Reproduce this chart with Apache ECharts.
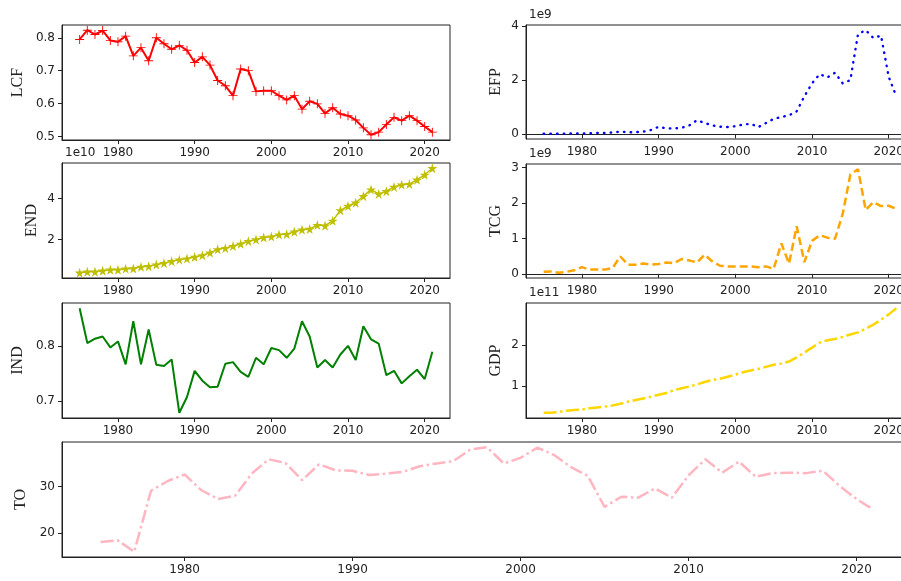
<!DOCTYPE html>
<html>
<head>
<meta charset="utf-8">
<script src="https://cdn.jsdelivr.net/npm/echarts@6.0.0/dist/echarts.min.js"></script>
<style>
  html, body { margin: 0; padding: 0; background: #fff; overflow: hidden; }
  /* the canvas is a little wider than the window, so the right column runs off the edge */
  #chart { width: 920px; height: 581px; }
</style>
</head>
<body>
<div id="chart"></div>
<script>
// Years covered by every indicator
const years = [1975, 1976, 1977, 1978, 1979, 1980, 1981, 1982, 1983, 1984,
  1985, 1986, 1987, 1988, 1989, 1990, 1991, 1992, 1993, 1994,
  1995, 1996, 1997, 1998, 1999, 2000, 2001, 2002, 2003, 2004,
  2005, 2006, 2007, 2008, 2009, 2010, 2011, 2012, 2013, 2014,
  2015, 2016, 2017, 2018, 2019, 2020, 2021];

// Load capacity factor
const lcf = [0.795, 0.823, 0.810, 0.822, 0.792, 0.788, 0.805, 0.745, 0.770, 0.730,
  0.800, 0.782, 0.765, 0.777, 0.762, 0.725, 0.742, 0.717, 0.670, 0.654,
  0.624, 0.705, 0.700, 0.637, 0.639, 0.639, 0.624, 0.611, 0.624, 0.583,
  0.607, 0.599, 0.570, 0.587, 0.568, 0.563, 0.550, 0.526, 0.505, 0.513,
  0.536, 0.558, 0.548, 0.563, 0.548, 0.530, 0.513];

// EFP, in units of 1e9
const efp = [0.02, 0.02, 0.02, 0.03, 0.03, 0.03, 0.04, 0.05, 0.05, 0.07,
  0.10, 0.08, 0.08, 0.10, 0.16, 0.28, 0.22, 0.22, 0.24, 0.33,
  0.52, 0.42, 0.33, 0.28, 0.27, 0.30, 0.36, 0.39, 0.27, 0.42,
  0.57, 0.64, 0.70, 0.85, 1.40, 1.88, 2.22, 2.10, 2.27, 1.88,
  2.00, 3.70, 3.84, 3.55, 3.64, 2.12, 1.40];

// END, in units of 1e10
const endv = [0.38, 0.43, 0.43, 0.48, 0.53, 0.53, 0.58, 0.59, 0.67, 0.70,
  0.78, 0.85, 0.94, 1.02, 1.07, 1.15, 1.23, 1.36, 1.52, 1.58,
  1.68, 1.79, 1.92, 2.00, 2.10, 2.14, 2.24, 2.26, 2.38, 2.48,
  2.51, 2.70, 2.67, 2.91, 3.42, 3.63, 3.79, 4.11, 4.43, 4.22,
  4.35, 4.56, 4.67, 4.70, 4.91, 5.15, 5.47];

// TCG, in units of 1e9
const tcg = [0.06, 0.07, 0.03, 0.06, 0.10, 0.19, 0.12, 0.12, 0.12, 0.17,
  0.49, 0.26, 0.26, 0.29, 0.26, 0.28, 0.32, 0.30, 0.42, 0.38,
  0.32, 0.54, 0.35, 0.23, 0.21, 0.21, 0.21, 0.21, 0.19, 0.21,
  0.14, 0.86, 0.29, 1.34, 0.33, 0.93, 1.09, 1.02, 0.99, 1.69,
  2.80, 2.95, 1.80, 2.02, 1.91, 1.92, 1.83];

// Industrialisation index
const ind = [0.870, 0.806, 0.814, 0.818, 0.798, 0.809, 0.767, 0.846, 0.767, 0.831,
  0.766, 0.764, 0.776, 0.678, 0.707, 0.755, 0.737, 0.725, 0.726, 0.768,
  0.771, 0.753, 0.744, 0.779, 0.767, 0.797, 0.793, 0.779, 0.796, 0.846,
  0.818, 0.761, 0.775, 0.761, 0.785, 0.801, 0.775, 0.837, 0.813, 0.805,
  0.747, 0.755, 0.732, 0.745, 0.757, 0.740, 0.790];

// GDP, in units of 1e11
const gdp = [0.35, 0.35, 0.37, 0.40, 0.42, 0.43, 0.46, 0.48, 0.50, 0.53,
  0.57, 0.62, 0.66, 0.70, 0.74, 0.79, 0.83, 0.90, 0.95, 0.99,
  1.04, 1.10, 1.15, 1.18, 1.23, 1.28, 1.34, 1.38, 1.42, 1.47,
  1.52, 1.55, 1.60, 1.70, 1.82, 1.94, 2.06, 2.12, 2.15, 2.20,
  2.26, 2.31, 2.40, 2.50, 2.62, 2.75, 2.90];

// Trade openness
const to = [18.0, 18.4, 15.9, 29.1, 31.2, 32.6, 29.2, 27.3, 28.0, 32.8,
  35.9, 35.1, 31.4, 34.8, 33.5, 33.4, 32.5, 32.8, 33.2, 34.4,
  35.0, 35.5, 38.0, 38.5, 35.0, 36.2, 38.4, 36.8, 34.2, 32.3,
  25.6, 27.8, 27.6, 29.6, 27.6, 32.4, 35.9, 33.0, 35.4, 32.1,
  32.9, 33.0, 32.9, 33.4, 30.1, 27.3, 25.0];

// Tick labels
const xTicks = [1980, 1990, 2000, 2010, 2020];
const lcfTicks = [0.5, 0.6, 0.7, 0.8];
const efpTicks = [0, 2, 4];
const endTicks = [2, 4];
const tcgTicks = [0, 1, 2, 3];
const indTicks = [0.7, 0.8];
const gdpTicks = [1, 2];
const toTicks = [20, 30];

// Marker shapes
const starPath = 'path://M50,0 L61,35 L98,35 L68,57 L79,91 L50,70 L21,91 L32,57 L2,35 L39,35 Z';
const plusPath = 'path://M0,9H20V11H0Z M9,0H11V20H9Z';

// Panel layout and look
const panels = [
  { name: 'LCF', data: lcf, ticks: lcfTicks, rect: [62, 25, 388, 115], gap: 36,
    color: '#ff0000', type: 'solid', width: 2, symbol: plusPath, symbolSize: 9 },
  { name: 'EFP', data: efp, ticks: efpTicks, rect: [526, 25, 388, 114], gap: 22,
    color: '#0000ff', type: [0.5, 6.2], width: 2.4, cap: 'round' },
  { name: 'END', data: endv, ticks: endTicks, rect: [62, 163, 388, 115], gap: 22,
    color: '#bfbf00', type: 'solid', width: 1.5, symbol: starPath, symbolSize: 10 },
  { name: 'TCG', data: tcg, ticks: tcgTicks, rect: [526, 164, 388, 114], gap: 22,
    color: '#ffa500', type: [8, 4], width: 2.5 },
  { name: 'IND', data: ind, ticks: indTicks, rect: [62, 303, 388, 115], gap: 36,
    color: '#008000', type: 'solid', width: 2 },
  { name: 'GDP', data: gdp, ticks: gdpTicks, rect: [526, 303, 388, 115], gap: 22,
    color: '#ffd700', type: [13, 3.5, 2.5, 3.5], width: 2.5 },
  { name: 'TO', data: to, ticks: toTicks, rect: [62, 442, 850, 115], gap: 29,
    color: '#ffb6c1', type: [13, 3.5, 2.5, 3.5], width: 2.5 }
];

// Offset labels for scaled axes, drawn above the panel they belong to
const offsetLabels = [
  { text: '1e9', panel: 'EFP' },
  { text: '1e10', panel: 'END' },
  { text: '1e9', panel: 'TCG' },
  { text: '1e11', panel: 'GDP' }
];

const fmt = v => String(parseFloat(Number(v).toFixed(3)));
const padMin = e => e.min - 0.05 * (e.max - e.min);
const padMax = e => e.max + 0.05 * (e.max - e.min);
const tickFont = { fontFamily: 'DejaVu Sans', fontSize: 12, color: '#222' };

const grid = [], xAxis = [], yAxis = [], series = [], graphic = [];

panels.forEach((p, i) => {
  const [l, t, w, h] = p.rect;
  grid.push({ left: l, top: t, width: w, height: h, show: true,
    borderColor: '#222', borderWidth: 1, backgroundColor: 'transparent' });
  xAxis.push({
    type: 'value', gridIndex: i, min: padMin, max: padMax,
    splitLine: { show: false },
    axisLine: { show: true, lineStyle: { color: '#222', width: 1 } },
    axisTick: { show: true, length: 4, lineStyle: { color: '#222' }, customValues: xTicks },
    axisLabel: Object.assign({ margin: 7, customValues: xTicks, formatter: fmt }, tickFont)
  });
  yAxis.push({
    type: 'value', gridIndex: i, min: padMin, max: padMax,
    name: p.name, nameLocation: 'middle', nameGap: p.gap, nameRotate: 90,
    nameTextStyle: { fontFamily: 'Liberation Serif', fontSize: 16, color: '#222' },
    splitLine: { show: false },
    axisLine: { show: true, lineStyle: { color: '#222', width: 1 } },
    axisTick: { show: true, length: 4, lineStyle: { color: '#222' }, customValues: p.ticks },
    axisLabel: Object.assign({ margin: 7, customValues: p.ticks, formatter: fmt }, tickFont)
  });
  series.push({
    type: 'line', xAxisIndex: i, yAxisIndex: i,
    data: years.map((y, k) => [y, p.data[k]]),
    symbol: p.symbol || 'none', symbolSize: p.symbolSize || 0,
    showSymbol: !!p.symbol,
    itemStyle: { color: p.color, borderWidth: 0 },
    lineStyle: { color: p.color, width: p.width, type: p.type, cap: p.cap || 'butt' },
    animation: false, silent: true
  });
});

offsetLabels.forEach(o => {
  const p = panels.find(q => q.name === o.panel);
  graphic.push({
    type: 'text', left: p.rect[0] + 3, top: p.rect[1] - 16,
    style: { text: o.text, fontFamily: 'DejaVu Sans', fontSize: 12, fill: '#222' }
  });
});

const chart = echarts.init(document.getElementById('chart'), null, { renderer: 'canvas' });
chart.setOption({ animation: false, backgroundColor: '#fff', grid, xAxis, yAxis, series, graphic });
</script>
</body>
</html>
